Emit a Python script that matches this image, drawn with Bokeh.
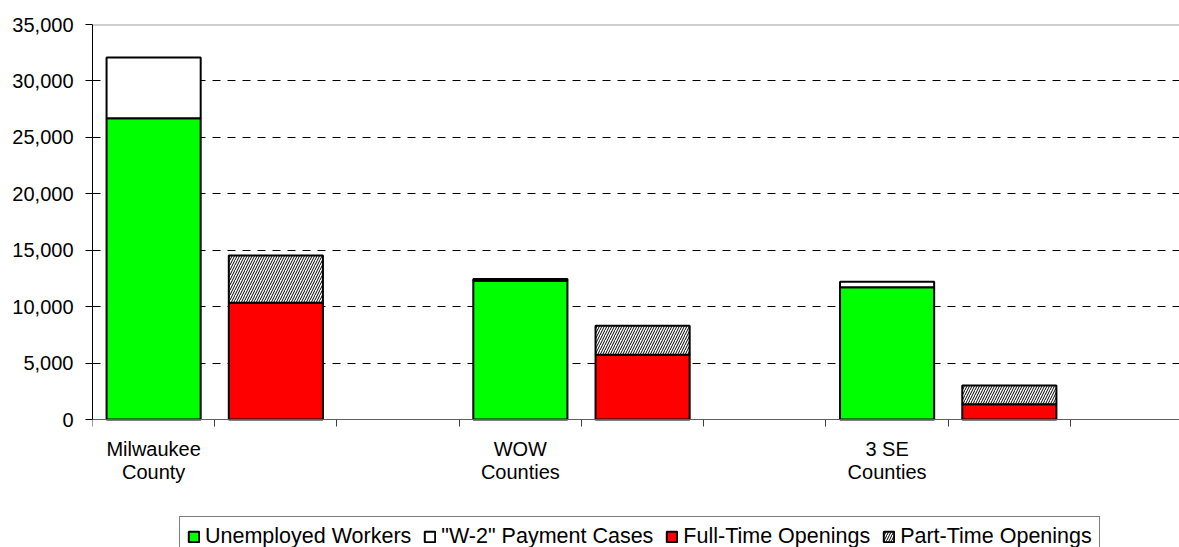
from bokeh.plotting import figure
from bokeh.models import (FixedTicker, NumeralTickFormatter, Range1d, Span, Legend)
from bokeh.embed import file_html
from bokeh.resources import INLINE

# ---- data ----
categories = ["Milwaukee County", "WOW Counties", "3 SE Counties"]
unemployed = [26700, 12300, 11720]
w2_cases = [5380, 160, 480]
full_time = [10340, 5730, 1360]
part_time = [4190, 2570, 1650]
y_ticks = [0, 5000, 10000, 15000, 20000, 25000, 30000, 35000]

FONT = "Liberation Sans"
FS = "20px"

n = len(categories)
slot = 3  # two bars + one empty slot per group
x_green = [slot * i + 0.5 for i in range(n)]
x_red = [slot * i + 1.5 for i in range(n)]
w2_top = [u + w for u, w in zip(unemployed, w2_cases)]
pt_top = [f + q for f, q in zip(full_time, part_time)]

# frame runs to the bottom of the page so that axis labels and legend sit inside it;
# the value axis spans 0..35000 over the upper 395 px
y_max = y_ticks[-1]
y_min = -y_max * 128 / 395

p = figure(width=1179, height=547, output_backend="svg", toolbar_location=None,
           x_range=Range1d(0, 8.892), y_range=Range1d(y_min, y_max),
           min_border_left=92, min_border_top=24, min_border_right=0,
           min_border_bottom=0)
p.outline_line_color = None
p.background_fill_color = "white"
p.border_fill_color = "white"

bw = 0.77
r1 = p.vbar(x=x_green, bottom=0, top=unemployed, width=bw, fill_color="#00ff00",
            line_color="black", line_width=2)
r2 = p.vbar(x=x_green, bottom=unemployed, top=w2_top, width=bw, fill_color="white",
            line_color="black", line_width=2)
r3 = p.vbar(x=x_red, bottom=0, top=full_time, width=bw, fill_color="#ff0000",
            line_color="black", line_width=2)
r4 = p.vbar(x=x_red, bottom=full_time, top=pt_top, width=bw, fill_color="white",
            hatch_pattern="/", hatch_color="black", hatch_scale=5, hatch_weight=1,
            line_color="black", line_width=2)

# top border line (gray) under the dashed grid
top_span = Span(location=y_max, dimension="width", line_color="#a0a0a0", line_width=2,
                level="image")
p.add_layout(top_span)

# y axis
yax = p.yaxis[0]
yax.bounds = (0, y_max)
yax.ticker = FixedTicker(ticks=y_ticks, minor_ticks=[])
yax.formatter = NumeralTickFormatter(format="0,0")
yax.major_label_text_font = FONT
yax.major_label_text_font_size = FS
yax.major_label_text_color = "black"
yax.major_tick_out = 7
yax.major_tick_in = 0
yax.minor_tick_out = 0
yax.minor_tick_in = 0
yax.major_tick_line_color = "black"
yax.axis_line_color = "black"
yax.major_label_standoff = 12

p.ygrid.ticker = FixedTicker(ticks=y_ticks[1:])
p.ygrid.grid_line_color = "black"
p.ygrid.grid_line_dash = "8 7"
p.ygrid.grid_line_width = 1
p.xgrid.visible = False

# x axis, pinned at value 0
xax = p.xaxis[0]
xax.fixed_location = 0
xax.ticker = FixedTicker(ticks=[slot * i + 0.5 for i in range(n)],
                         minor_ticks=list(range(0, 10)))
xax.major_label_overrides = {slot * i + 0.5: "\n".join(c.rsplit(" ", 1))
                             for i, c in enumerate(categories)}
xax.major_tick_line_color = None
xax.major_tick_out = 0
xax.major_tick_in = 0
xax.minor_tick_out = 7
xax.minor_tick_in = 0
xax.minor_tick_line_color = "#404040"
xax.axis_line_color = "#606060"
xax.major_label_text_font = FONT
xax.major_label_text_font_size = FS
xax.major_label_text_color = "black"
xax.major_label_text_line_height = 1.08
xax.major_label_standoff = 11

legend = Legend(items=[("Unemployed Workers", [r1]),
                       ("\"W-2\" Payment Cases", [r2]),
                       ("Full-Time Openings", [r3]),
                       ("Part-Time Openings", [r4])],
                orientation="horizontal", location=(87, -10))
legend.label_text_font = FONT
legend.label_text_font_size = "21.5px"
legend.label_text_color = "black"
legend.glyph_width = 13
legend.glyph_height = 13
legend.label_standoff = 5
legend.spacing = 12
legend.padding = 7
legend.margin = 0
legend.border_line_color = "black"
legend.border_line_width = 1
legend.background_fill_alpha = 1
p.add_layout(legend, "center")

open("out.html", "w").write(file_html(p, INLINE))
